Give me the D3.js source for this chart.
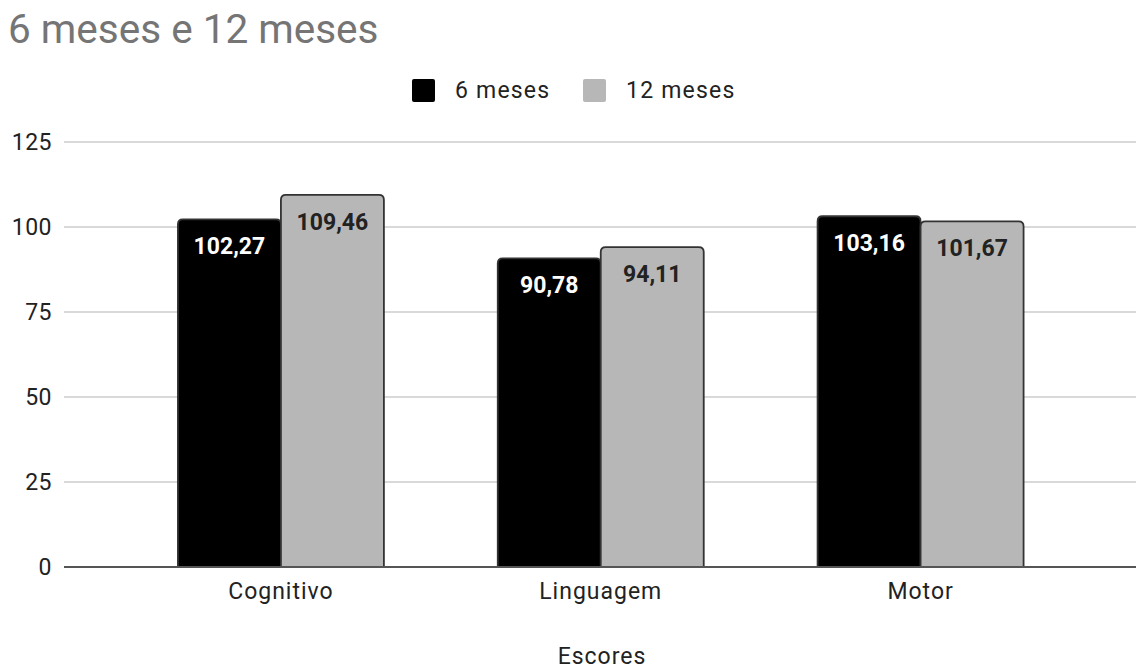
<!DOCTYPE html>
<html>
<head>
<meta charset="utf-8">
<script src="https://cdn.jsdelivr.net/npm/d3@7"></script>
<style>
  html, body { margin: 0; padding: 0; background: #fff; }
  svg { display: block; font-family: Roboto, "Noto Sans", Arial, sans-serif; }
</style>
</head>
<body>
<svg id="chart" width="1136" height="672"></svg>
<script>
const categories = ["Cognitivo", "Linguagem", "Motor"];
const seriesNames = ["6 meses", "12 meses"];
const values6 = [102.27, 90.78, 103.16];
const values12 = [109.46, 94.11, 101.67];
const yTicks = [0, 25, 50, 75, 100, 125];
const colors = ["#000000", "#b7b7b7"];
const labelColors = ["#ffffff", "#222222"];

const svg = d3.select("#chart");
const gridLeft = 64, gridRight = 1136;

const x = d3.scaleBand().domain(categories).range([121, 1080.5])
  .paddingInner(0.356).paddingOuter(0.178);
const xs = d3.scaleBand().domain(seriesNames).range([0, x.bandwidth()]);
const y = d3.scaleLinear().domain([0, 125]).range([567, 142]);

// Title
svg.append("text").attr("x", 8).attr("y", 43)
  .attr("font-size", 40.5).attr("fill", "#757575").text("6 meses e 12 meses");

// Gridlines
svg.append("g").selectAll("line").data(yTicks.filter(d => d !== 0)).join("line")
  .attr("x1", gridLeft).attr("x2", gridRight)
  .attr("y1", d => y(d)).attr("y2", d => y(d))
  .attr("stroke", "#cccccc").attr("stroke-width", 1.3);

// Y axis
const yAxis = svg.append("g").attr("transform", `translate(${gridLeft},0)`)
  .call(d3.axisLeft(y).tickValues(yTicks).tickSize(0).tickPadding(12));
yAxis.select(".domain").remove();
yAxis.selectAll("text").attr("font-size", 23).attr("fill", "#222")
  .attr("font-family", "Roboto, sans-serif").attr("letter-spacing", 0.5);

// Bars
const data = [];
categories.forEach((c, i) => {
  data.push({ cat: c, s: seriesNames[0], v: values6[i], k: 0 });
  data.push({ cat: c, s: seriesNames[1], v: values12[i], k: 1 });
});

function barPath(x0, w, y0, y1, r) {
  return `M${x0},${y1} L${x0},${y0 + r} Q${x0},${y0} ${x0 + r},${y0} L${x0 + w - r},${y0} Q${x0 + w},${y0} ${x0 + w},${y0 + r} L${x0 + w},${y1}`;
}

svg.append("g").selectAll("path").data(data).join("path")
  .attr("d", d => barPath(x(d.cat) + xs(d.s), xs.bandwidth(), y(d.v), y(0), 5))
  .attr("fill", d => colors[d.k])
  .attr("stroke", "#333").attr("stroke-width", 1.8);

// Value labels
svg.append("g").selectAll("text").data(data).join("text")
  .attr("x", d => x(d.cat) + xs(d.s) + xs.bandwidth() / 2)
  .attr("y", d => y(d.v) + 35)
  .attr("text-anchor", "middle")
  .attr("font-size", 23).attr("font-weight", "bold")
  .attr("fill", d => labelColors[d.k])
  .text(d => d3.format(".2f")(d.v).replace(".", ","));

// Baseline
svg.append("line").attr("x1", gridLeft).attr("x2", gridRight)
  .attr("y1", y(0)).attr("y2", y(0))
  .attr("stroke", "#555").attr("stroke-width", 2);

// X axis labels
const xAxis = svg.append("g").attr("transform", `translate(0,${y(0)})`)
  .call(d3.axisBottom(x).tickSize(0).tickPadding(16));
xAxis.select(".domain").remove();
xAxis.selectAll("text").attr("font-size", 23).attr("fill", "#222")
  .attr("font-family", "Roboto, sans-serif").attr("letter-spacing", 1);

// X axis title
svg.append("text").attr("x", 602).attr("y", 664)
  .attr("text-anchor", "middle").attr("font-size", 23).attr("fill", "#222")
  .attr("letter-spacing", 1).text("Escores");

// Legend
const legend = svg.append("g");
const legendX = [412, 583];
seriesNames.forEach((s, i) => {
  legend.append("rect").attr("x", legendX[i]).attr("y", 79)
    .attr("width", 23).attr("height", 23).attr("rx", 2)
    .attr("fill", colors[i]);
  legend.append("text").attr("x", legendX[i] + 43).attr("y", 98)
    .attr("font-size", 23).attr("fill", "#222").attr("letter-spacing", 1.2).text(s);
});
</script>
</body>
</html>
